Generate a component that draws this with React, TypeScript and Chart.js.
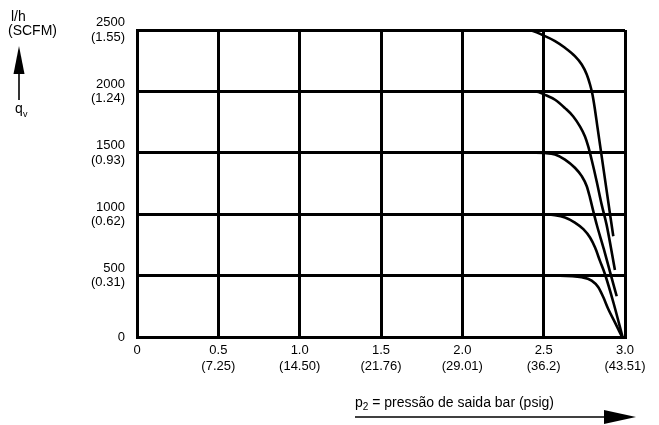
import React, { useEffect, useRef } from "react";
import { Chart, registerables } from "chart.js";

Chart.register(...registerables);

// Flow levels (l/h) and their SCFM equivalents
const yTickValues = [0, 500, 1000, 1500, 2000, 2500];
const yTickScfm = ["", "(0.31)", "(0.62)", "(0.93)", "(1.24)", "(1.55)"];
// Outlet pressure (bar) and psig equivalents
const xTickValues = [0, 0.5, 1.0, 1.5, 2.0, 2.5, 3.0];
const xTickBar = ["0", "0.5", "1.0", "1.5", "2.0", "2.5", "3.0"];
const xTickPsig = ["", "(7.25)", "(14.50)", "(21.76)", "(29.01)", "(36.2)", "(43.51)"];

// Curves: pressure p2 (bar) and flow qv (l/h)
const curve2500P = [0, 2.4, 2.508, 2.57, 2.631, 2.692, 2.734, 2.765, 2.785, 2.8, 2.815, 2.83, 2.86, 2.89, 2.928];
const curve2500Q = [2500, 2500, 2450, 2409, 2355, 2287, 2219, 2138, 2056, 1975, 1855, 1715, 1440, 1165, 820];
const curve2000P = [0, 2.45, 2.508, 2.57, 2.631, 2.682, 2.723, 2.754, 2.774, 2.795, 2.826, 2.857, 2.887, 2.938];
const curve2000Q = [2000, 2000, 1972, 1932, 1864, 1796, 1715, 1633, 1552, 1443, 1267, 1076, 913, 546];
const curve1500P = [0, 2.45, 2.508, 2.57, 2.631, 2.692, 2.734, 2.765, 2.785, 2.805, 2.826, 2.87, 2.91, 2.949];
const curve1500Q = [1500, 1500, 1498, 1486, 1445, 1378, 1310, 1228, 1133, 1025, 916, 715, 520, 332];
const curve1000P = [0, 2.5, 2.57, 2.631, 2.692, 2.744, 2.785, 2.816, 2.846, 2.877, 2.93, 2.985];
const curve1000Q = [1000, 1000, 992, 973, 932, 878, 810, 728, 620, 511, 275, 0];
const curve500P = [0, 2.6, 2.734, 2.795, 2.836, 2.867, 2.897, 2.938, 2.982];
const curve500Q = [500, 500, 487, 459, 405, 323, 228, 119, 0];

const FONT = '"Liberation Sans", Arial, Helvetica, sans-serif';

const toPoints = (xs: number[], ys: number[]) => xs.map((x, i) => ({ x, y: ys[i] }));

const annotations = {
  id: "annotations",
  afterDraw(chart: any) {
    const ctx = chart.ctx as CanvasRenderingContext2D;
    ctx.save();
    ctx.fillStyle = "#000";
    ctx.strokeStyle = "#000";
    ctx.textBaseline = "alphabetic";
    ctx.textAlign = "left";
    ctx.font = `14px ${FONT}`;
    ctx.fillText("l/h", 11, 21);
    ctx.fillText("(SCFM)", 8, 35);
    // y arrow
    ctx.lineWidth = 1.6;
    ctx.beginPath();
    ctx.moveTo(19, 100);
    ctx.lineTo(19, 70);
    ctx.stroke();
    ctx.beginPath();
    ctx.moveTo(19, 46);
    ctx.lineTo(13.5, 74);
    ctx.lineTo(24.5, 74);
    ctx.closePath();
    ctx.fill();
    // q_v
    ctx.font = `14px ${FONT}`;
    ctx.fillText("q", 15, 113);
    ctx.font = `9px ${FONT}`;
    ctx.fillText("v", 23, 117);
    // x title
    ctx.font = `14px ${FONT}`;
    ctx.fillText("p", 355, 407);
    const pw = ctx.measureText("p").width;
    ctx.font = `10px ${FONT}`;
    ctx.fillText("2", 355 + pw, 410);
    const sw = ctx.measureText("2").width;
    ctx.font = `14px ${FONT}`;
    ctx.fillText(" = pressão de saida bar (psig)", 355 + pw + sw, 407);
    // x arrow
    ctx.lineWidth = 1.6;
    ctx.beginPath();
    ctx.moveTo(355, 417);
    ctx.lineTo(610, 417);
    ctx.stroke();
    ctx.beginPath();
    ctx.moveTo(636, 417);
    ctx.lineTo(604, 410);
    ctx.lineTo(604, 424);
    ctx.closePath();
    ctx.fill();
    ctx.restore();
  },
};

export default function App() {
  const ref = useRef<HTMLCanvasElement | null>(null);
  useEffect(() => {
    if (!ref.current) return;
    const curveStyle = {
      borderColor: "#000",
      borderWidth: 2.6,
      pointRadius: 0,
      fill: false,
      cubicInterpolationMode: "monotone" as const,
    };
    const chart = new Chart(ref.current, {
      type: "line",
      data: {
        datasets: [
          { data: toPoints(curve2500P, curve2500Q), ...curveStyle },
          { data: toPoints(curve2000P, curve2000Q), ...curveStyle },
          { data: toPoints(curve1500P, curve1500Q), ...curveStyle },
          { data: toPoints(curve1000P, curve1000Q), ...curveStyle },
          { data: toPoints(curve500P, curve500Q), ...curveStyle },
        ],
      },
      options: {
        animation: false,
        responsive: false,
        devicePixelRatio: 1,
        layout: { padding: { left: 0, right: 34, top: 30, bottom: 0 } },
        plugins: { legend: { display: false }, tooltip: { enabled: false } },
        scales: {
          x: {
            type: "linear",
            min: 0,
            max: 3,
            afterBuildTicks: (scale: any) => {
              scale.ticks = xTickValues.map((v) => ({ value: v }));
            },
            afterFit: (scale: any) => {
              scale.height = 88;
            },
            grid: { color: "#000", lineWidth: 3, drawTicks: false },
            border: { color: "#000", width: 3 },
            ticks: {
              color: "#000",
              font: { family: FONT, size: 13, lineHeight: 1.25 },
              padding: 5,
              maxRotation: 0,
              autoSkip: false,
              callback: (_v: any, i: number) =>
                xTickPsig[i] ? [xTickBar[i], xTickPsig[i]] : xTickBar[i],
            },
          },
          y: {
            type: "linear",
            min: 0,
            max: 2500,
            afterBuildTicks: (scale: any) => {
              scale.ticks = yTickValues.map((v) => ({ value: v }));
            },
            afterFit: (scale: any) => {
              scale.width = 137;
            },
            grid: { color: "#000", lineWidth: 3, drawTicks: false },
            border: { color: "#000", width: 3 },
            ticks: {
              color: "#000",
              font: { family: FONT, size: 13, lineHeight: 1.1 },
              padding: 12,
              autoSkip: false,
              callback: (_v: any, i: number) =>
                yTickScfm[i] ? [String(yTickValues[i]), yTickScfm[i]] : String(yTickValues[i]),
            },
          },
        },
      },
      plugins: [annotations],
    });
    return () => chart.destroy();
  }, []);
  return (
    <div style={{ position: "fixed", left: 0, top: 0, width: 659, height: 425, background: "#fff" }}>
      <canvas ref={ref} width={659} height={425} style={{ display: "block" }} />
    </div>
  );
}
